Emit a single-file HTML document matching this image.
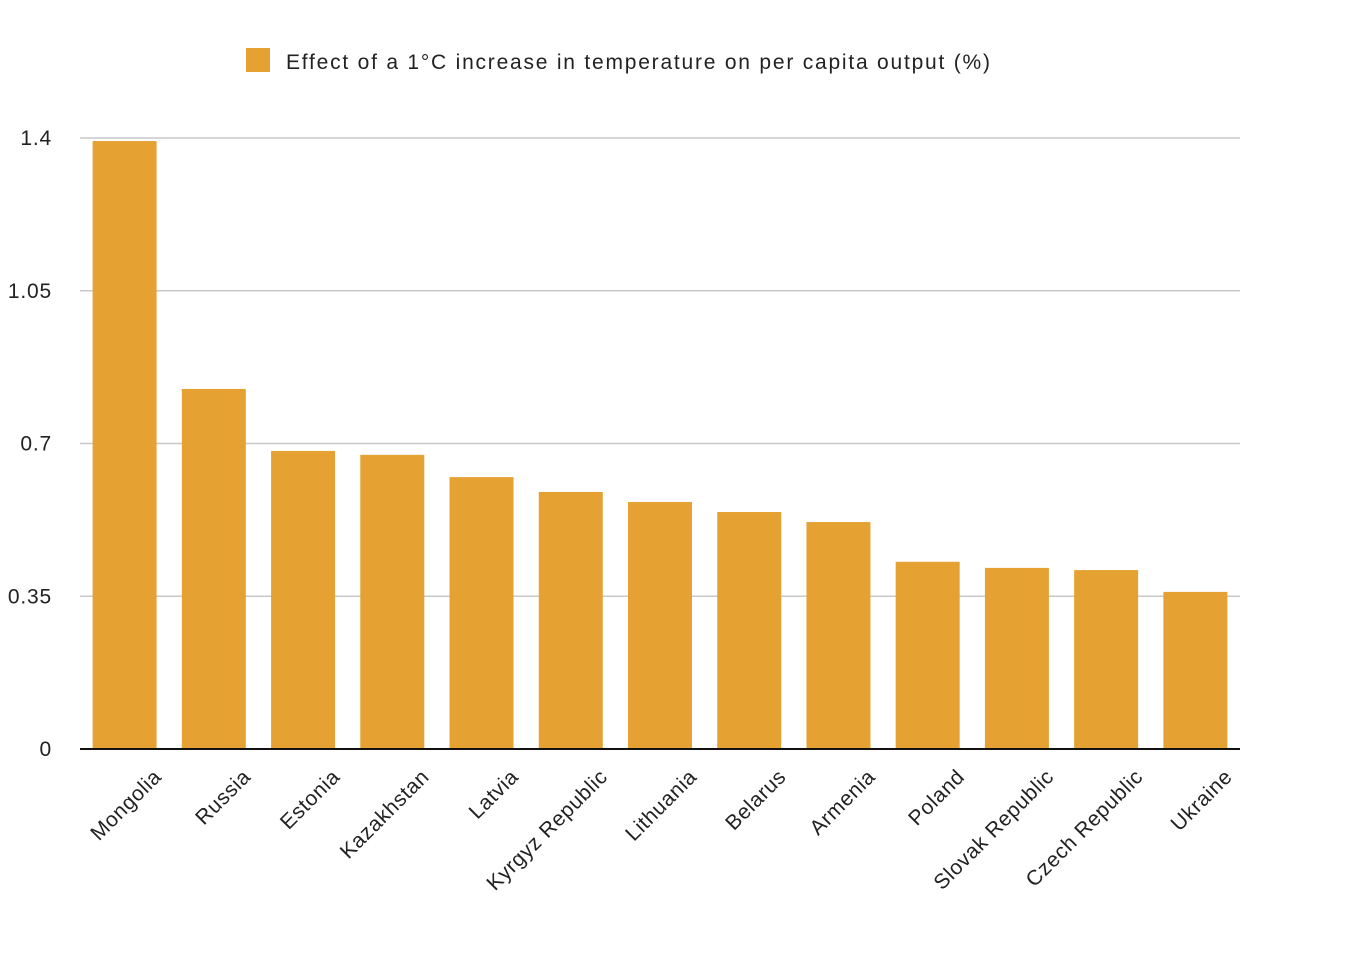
<!DOCTYPE html>
<html><head><meta charset="utf-8"><style>
html,body{margin:0;padding:0;background:#fff;}
svg{display:block;font-family:"Liberation Sans",Arial,sans-serif;}
</style></head><body>
<svg id="chart" width="1360" height="953">
<g id="legend">
<rect x="246" y="48" width="24" height="24" fill="#E5A233"/>
<text x="286" y="69" font-size="21" fill="#222" textLength="704" lengthAdjust="spacing">Effect of a 1°C increase in temperature on per capita output (%)</text>
</g>
<g id="grid"></g><g id="bars"></g><g id="xlabels"></g>
</svg>
<script>
const categories=["Mongolia","Russia","Estonia","Kazakhstan","Latvia","Kyrgyz Republic","Lithuania","Belarus","Armenia","Poland","Slovak Republic","Czech Republic","Ukraine"];
const values=[1.393,0.825,0.683,0.674,0.623,0.589,0.566,0.543,0.520,0.429,0.415,0.410,0.360];
const ticks=[0,0.35,0.7,1.05,1.4];
const tickLabels=["0","0.35","0.7","1.05","1.4"];
const NS="http://www.w3.org/2000/svg";
const x0=80,x1=1240,yBase=749,yTop=138,yMax=1.4;
const y=v=>yBase-(v/yMax)*(yBase-yTop);
const band=(x1-x0)/categories.length;
const bx=i=>x0+i*band;
function mk(t,a,p){const e=document.createElementNS(NS,t);for(const k in a)e.setAttribute(k,a[k]);p.appendChild(e);return e;}
const grid=document.getElementById('grid');
ticks.forEach((t,i)=>{
  if(t!==0){const l=mk('line',{x1:x0,x2:x1,y1:y(t),y2:y(t),stroke:'#c8c8c8','stroke-width':1.5},grid);
  
  }
  const tx=mk('text',{x:52,y:y(t)+7,'text-anchor':'end','font-size':21,'letter-spacing':0.8,fill:'#222'},grid);
  tx.textContent=tickLabels[i];
  
  
});
const bars=document.getElementById('bars');
const xl=document.getElementById('xlabels');
values.forEach((v,i)=>{
  const r=mk('rect',{x:bx(i)+12.6,y:y(v),width:64,height:yBase-y(v),fill:'#E5A233'},bars);
  
  
  const cx=bx(i)+band/2+38, cy=778;
  const t=mk('text',{x:cx,y:cy,'text-anchor':'end','font-size':21,'letter-spacing':0.6,fill:'#222',transform:`rotate(-45 ${cx} ${cy})`},xl);
  t.textContent=categories[i];
  
  
});
const ax=mk('line',{x1:x0,x2:x1,y1:yBase,y2:yBase,stroke:'#111','stroke-width':2},document.getElementById('chart'));


</script>
</body></html>
